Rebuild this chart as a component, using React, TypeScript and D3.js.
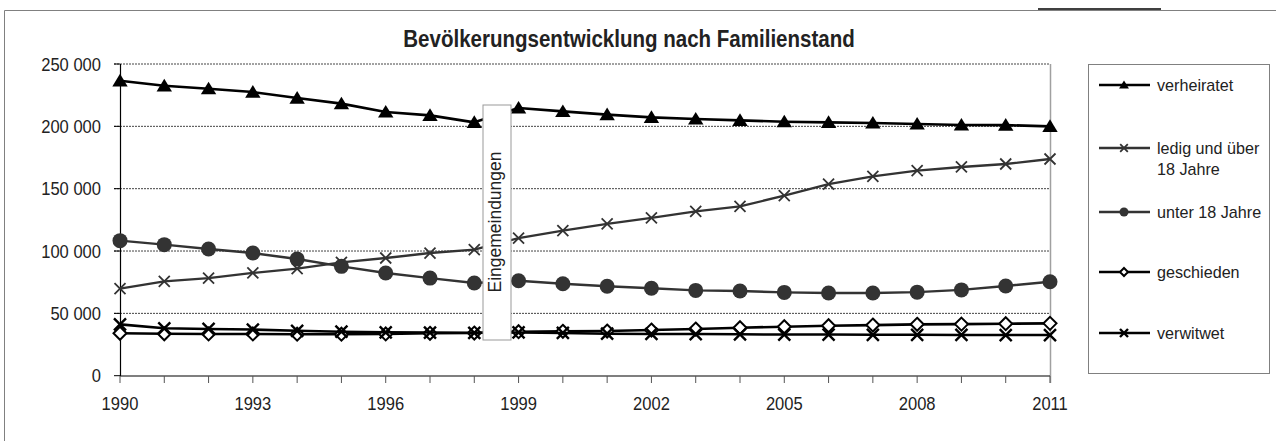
import React from "react";
import * as d3 from "d3";

const years = [1990,1991,1992,1993,1994,1995,1996,1997,1998,1999,2000,2001,2002,2003,2004,2005,2006,2007,2008,2009,2010,2011];
const verheiratet = [236500,232500,230200,227500,222700,218200,211500,208800,203200,214700,212000,209400,207200,205900,204800,203700,203200,202700,201900,201100,201000,200000];
const ledig = [69800,75700,78300,82400,85800,90900,94400,98400,101100,110400,116300,121700,126500,131800,135800,144400,153700,159900,164400,167400,169800,173800];
const unter18 = [108300,105100,101600,98400,93600,87700,82400,78300,74300,76200,73800,71700,70100,68400,67900,66800,66300,66300,67000,68800,72000,75400];
const geschieden = [34000,33600,33500,33500,33300,33300,33500,34000,34200,35300,35600,35800,36600,37400,38500,39300,40100,40600,41200,41400,41700,42000];
const verwitwet = [41200,38000,37500,37000,36000,35300,34800,34600,34400,34700,34300,33700,33500,33400,33200,33000,33000,32800,32800,32700,32600,32600];
const yTicks = [0,50000,100000,150000,200000,250000];
const xTickLabels = [1990,1993,1996,1999,2002,2005,2008,2011];
const title = "Bevölkerungsentwicklung nach Familienstand";
const annotation = "Eingemeindungen";

type Marker = "triangle" | "cross" | "circle" | "diamond" | "x";
const series: { name: string[]; values: number[]; color: string; width: number; marker: Marker }[] = [
  { name: ["verheiratet"], values: verheiratet, color: "#000", width: 2.6, marker: "triangle" },
  { name: ["ledig und über", "18 Jahre"], values: ledig, color: "#333", width: 2.3, marker: "cross" },
  { name: ["unter 18 Jahre"], values: unter18, color: "#333", width: 2.4, marker: "circle" },
  { name: ["geschieden"], values: geschieden, color: "#000", width: 2.6, marker: "diamond" },
  { name: ["verwitwet"], values: verwitwet, color: "#000", width: 2.6, marker: "x" },
];

const FONT = "'Liberation Sans', Arial, sans-serif";

function MarkerShape({ type, x, y, s, color }: { type: Marker; x: number; y: number; s: number; color: string }) {
  if (type === "triangle") {
    return <path d={`M${x},${y - s} L${x + s * 1.1},${y + s * 0.8} L${x - s * 1.1},${y + s * 0.8} Z`} fill={color} />;
  }
  if (type === "circle") {
    return <circle cx={x} cy={y} r={s} fill={color} />;
  }
  if (type === "diamond") {
    return <path d={`M${x},${y - s} L${x + s},${y} L${x},${y + s} L${x - s},${y} Z`} fill="#fff" stroke={color} strokeWidth={2} />;
  }
  const w = type === "cross" ? 1.8 : 2.4;
  return (
    <path d={`M${x - s},${y - s} L${x + s},${y + s} M${x - s},${y + s} L${x + s},${y - s}`} stroke={color} strokeWidth={w} fill="none" />
  );
}

function SText({ x, y, sx, size, anchor, weight, children }: { x: number; y: number; sx: number; size: number; anchor?: string; weight?: string; children: React.ReactNode }) {
  return (
    <text transform={`translate(${x},${y}) scale(${sx},1)`} textAnchor={anchor || "start"} fontSize={size} fontWeight={weight || "normal"} fill="#222">
      {children}
    </text>
  );
}

const markerSize: Record<Marker, number> = { triangle: 7, cross: 5.5, circle: 7.5, diamond: 6.5, x: 6 };
const legendMarkerSize: Record<Marker, number> = { triangle: 4.5, cross: 3.8, circle: 4.5, diamond: 4, x: 4 };

export default function App() {
  const x = d3.scaleLinear().domain([1990, 2011]).range([120, 1050]);
  const y = d3.scaleLinear().domain([0, 250000]).range([375.7, 64]);
  const line = d3.line<number>().x((_, i) => x(years[i])).y((d) => y(d));
  const legendY = [85, 148, 212, 272, 333];
  const fmt = (t: number) => d3.format(",")(t).replace(/,/g, " ");

  return (
    <svg width={1276} height={441} style={{ position: "absolute", left: 0, top: 0, background: "#fff" }} fontFamily={FONT}>
      <rect x={0} y={0} width={1276} height={441} fill="#fff" />
      {/* outer frame */}
      <path d="M4.5,441 L4.5,10.5 L1276,10.5" fill="none" stroke="#808080" strokeWidth={1} />
      <line x1={1038} x2={1161} y1={9} y2={9} stroke="#000" strokeWidth={1.5} />

      {/* title */}
      <SText x={629} y={47} sx={0.874} size={23.5} anchor="middle" weight="bold">{title}</SText>

      {/* gridlines */}
      {yTicks.filter((t) => t > 0).map((t) => (
        <line key={t} x1={114} x2={1050} y1={y(t)} y2={y(t)} stroke="#444" strokeWidth={1} strokeDasharray="2,1" />
      ))}
      {/* right plot border */}
      <line x1={1050.5} x2={1050.5} y1={64} y2={383} stroke="#a0a0a0" strokeWidth={1.5} />

      {/* y axis */}
      <line x1={120.5} x2={120.5} y1={64} y2={376} stroke="#000" strokeWidth={1.2} />
      {yTicks.map((t) => (
        <g key={t}>
          <line x1={114} x2={120} y1={y(t)} y2={y(t)} stroke="#000" />
          <SText x={101} y={y(t) + 6.7} sx={0.89} size={18.6} anchor="end">{fmt(t)}</SText>
        </g>
      ))}

      {/* x axis */}
      <line x1={120} x2={1050} y1={376} y2={376} stroke="#000" strokeWidth={1.2} />
      {years.map((yr) => (
        <line key={yr} x1={x(yr)} x2={x(yr)} y1={376} y2={383} stroke="#555" />
      ))}
      {xTickLabels.map((yr) => (
        <SText key={yr} x={x(yr)} y={409.5} sx={0.89} size={18.6} anchor="middle">{yr}</SText>
      ))}

      {/* series */}
      {series.map((s, si) => (
        <g key={si}>
          <path d={line(s.values) || ""} fill="none" stroke={s.color} strokeWidth={s.width} strokeLinejoin="round" />
          {s.values.map((v, i) => (
            <MarkerShape key={i} type={s.marker} x={x(years[i])} y={y(v)} s={markerSize[s.marker]} color={s.color} />
          ))}
        </g>
      ))}

      {/* annotation box */}
      <rect x={483} y={105} width={28} height={235} fill="#fff" stroke="#999" strokeWidth={1} />
      <text transform={`translate(501,222) rotate(-90)`} textAnchor="middle" fontSize={17.5} fill="#222">{annotation}</text>

      {/* legend */}
      <rect x={1088.5} y={64.5} width={181} height={309} fill="#fff" stroke="#808080" strokeWidth={1} />
      {series.map((s, i) => (
        <g key={i}>
          <line x1={1099} x2={1150} y1={legendY[i]} y2={legendY[i]} stroke={s.color} strokeWidth={s.width} />
          <MarkerShape type={s.marker} x={1124} y={legendY[i]} s={legendMarkerSize[s.marker]} color={s.color} />
          {s.name.map((n, j) => (
            <SText key={j} x={1157} y={legendY[i] + j * 21 + 6} sx={0.95} size={17}>{n}</SText>
          ))}
        </g>
      ))}
    </svg>
  );
}
